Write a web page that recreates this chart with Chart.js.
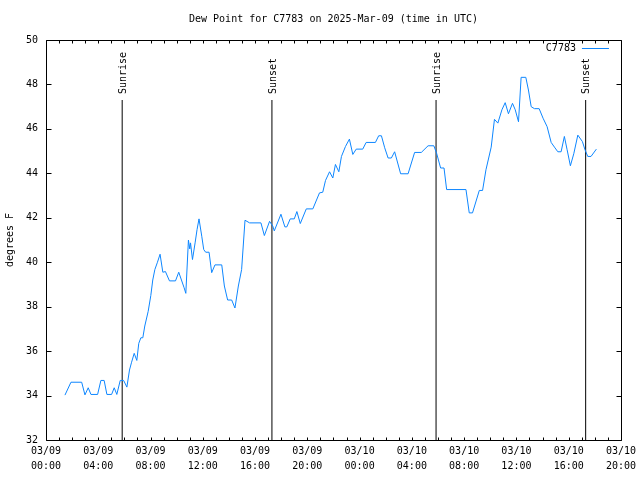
<!DOCTYPE html>
<html>
<head>
<meta charset="utf-8">
<script src="https://cdn.jsdelivr.net/npm/chart.js@4/dist/chart.umd.min.js"></script>
<style>
  html, body { margin: 0; padding: 0; background: #fff; }
  #wrap { width: 640px; height: 480px; }
</style>
</head>
<body>
<div id="wrap"><canvas id="chart" width="640" height="480"></canvas></div>
<script>
// hours since 03/09 00:00 UTC
const hours = [1.45, 1.91, 2.73, 2.98, 3.23, 3.44, 3.95, 4.20, 4.45, 4.66, 5.02, 5.22, 5.42, 5.68, 5.94,
  6.19, 6.39, 6.55, 6.75, 6.95, 7.10, 7.26, 7.41, 7.56, 7.82, 8.02, 8.17, 8.33, 8.53, 8.73, 8.94, 9.14,
  9.45, 9.91, 10.16, 10.57, 10.70, 10.90, 11.00, 11.06, 11.21, 11.41, 11.56, 11.71, 11.92, 12.07, 12.22,
  12.48, 12.68, 12.93, 13.45, 13.65, 13.90, 14.21, 14.46, 14.72, 14.97, 15.23, 15.58, 16.45, 16.71,
  17.11, 17.36, 17.47, 17.98, 18.28, 18.43, 18.69, 19.00, 19.20, 19.46, 19.92, 20.42, 20.93, 21.18,
  21.39, 21.70, 21.95, 22.15, 22.41, 22.61, 22.92, 23.22, 23.48, 23.74, 24.24, 24.50, 25.21, 25.46,
  25.67, 25.92, 26.18, 26.43, 26.68, 27.14, 27.71, 28.21, 28.72, 29.24, 29.68, 29.89, 30.20, 30.46,
  30.66, 32.14, 32.39, 32.64, 33.16, 33.41, 33.67, 34.07, 34.32, 34.58, 34.89, 35.14, 35.39, 35.70,
  35.91, 36.16, 36.36, 36.72, 36.92, 37.13, 37.38, 37.74, 38.04, 38.35, 38.66, 38.91, 39.17, 39.42,
  39.67, 39.88, 40.13, 40.39, 40.70, 41.05, 41.25, 41.46, 41.71, 42.12];
const dewPoint = [34.02, 34.6, 34.6, 34.03, 34.35, 34.05, 34.05, 34.68, 34.68, 34.05, 34.05, 34.35, 34.05, 34.68, 34.68,
  34.38, 35.15, 35.5, 35.9, 35.58, 36.35, 36.6, 36.6, 37.13, 37.79, 38.5, 39.2, 39.67, 40.0, 40.36, 39.55, 39.58,
  39.16, 39.16, 39.55, 38.85, 38.6, 41.0, 40.6, 40.87, 40.12, 40.87, 41.47, 41.95, 41.17, 40.57, 40.45,
  40.45, 39.53, 39.88, 39.88, 38.93, 38.3, 38.3, 37.94, 38.93, 39.67, 41.89, 41.77, 41.77, 41.2,
  41.84, 41.62, 41.41, 42.16, 41.59, 41.59, 41.95, 41.95, 42.28, 41.74, 42.4, 42.4, 43.12, 43.15,
  43.68, 44.07, 43.79, 44.4, 44.07, 44.76, 45.21, 45.54, 44.85, 45.09, 45.09, 45.39, 45.39, 45.69,
  45.69, 45.15, 44.69, 44.69, 44.97, 43.98, 43.98, 44.94, 44.94, 45.24, 45.24, 44.91, 44.24, 44.24,
  43.27, 43.27, 42.22, 42.22, 43.23, 43.23, 44.16, 45.18, 46.43, 46.26, 46.86, 47.18, 46.68, 47.15,
  46.86, 46.32, 48.32, 48.32, 47.75, 47.0, 46.91, 46.91, 46.48, 46.1, 45.39, 45.18, 44.97, 44.97,
  45.66, 45.06, 44.34, 44.88, 45.72, 45.43, 45.06, 44.76, 44.76, 45.09];

const sunLabels = ['Sunrise', 'Sunset', 'Sunrise', 'Sunset'];
const sunHours = [5.83, 17.29, 29.85, 41.3];
const sunLineTop = 47.3;

const yTicks = [32, 34, 36, 38, 40, 42, 44, 46, 48, 50];
const days = ['03/09', '03/10'];

const lineColor = '#0d86ff';

Chart.defaults.font.family = '"DejaVu Sans Mono", "Liberation Mono", monospace';
Chart.defaults.font.size = 10;
Chart.defaults.color = '#000';

const datasets = [{
  label: 'C7783',
  data: hours.map((h, i) => ({ x: h, y: dewPoint[i] })),
  borderColor: lineColor,
  borderWidth: 1,
  pointRadius: 0,
  tension: 0,
  order: 0
}];
sunHours.forEach((h, i) => {
  datasets.push({
    label: sunLabels[i],
    data: [{ x: h, y: yTicks[0] }, { x: h, y: sunLineTop }],
    borderColor: '#000',
    borderWidth: 1,
    pointRadius: 0,
    order: 1
  });
});

// gnuplot style: inward ticks on all four sides, sun labels, key in the corner
const decor = {
  id: 'decor',
  afterDatasetsDraw(chart) {
    const ctx = chart.ctx;
    const a = chart.chartArea;
    const xs = chart.scales.x, ys = chart.scales.y;
    const px = v => Math.round(v) + 0.5;
    ctx.save();
    ctx.strokeStyle = '#000';
    ctx.lineWidth = 1;
    ctx.beginPath();
    ctx.rect(px(a.left), px(a.top), Math.round(a.right) - Math.round(a.left), Math.round(a.bottom) - Math.round(a.top));
    for (let h = 0; h <= 44; h++) {
      const x = px(xs.getPixelForValue(h));
      ctx.moveTo(x, px(a.bottom)); ctx.lineTo(x, px(a.bottom) - 3);
      ctx.moveTo(x, px(a.top)); ctx.lineTo(x, px(a.top) + 3);
    }
    yTicks.forEach(v => {
      const y = px(ys.getPixelForValue(v));
      ctx.moveTo(px(a.left), y); ctx.lineTo(px(a.left) + 5, y);
      ctx.moveTo(px(a.right), y); ctx.lineTo(px(a.right) - 5, y);
    });
    ctx.stroke();

    ctx.fillStyle = '#000';
    ctx.font = '10px "DejaVu Sans Mono", "Liberation Mono", monospace';
    sunHours.forEach((h, i) => {
      const x = xs.getPixelForValue(h);
      const y = ys.getPixelForValue(sunLineTop) - 6;
      ctx.save();
      ctx.translate(x + 1, y);
      ctx.rotate(-Math.PI / 2);
      ctx.textAlign = 'left';
      ctx.textBaseline = 'middle';
      ctx.fillText(sunLabels[i], 0, 0);
      ctx.restore();
    });

    // key
    ctx.textAlign = 'right';
    ctx.textBaseline = 'middle';
    ctx.fillText('C7783', a.right - 45, a.top + 8);
    ctx.strokeStyle = lineColor;
    ctx.beginPath();
    ctx.moveTo(a.right - 39, a.top + 8.5);
    ctx.lineTo(a.right - 12, a.top + 8.5);
    ctx.stroke();
    ctx.restore();
  }
};

new Chart(document.getElementById('chart'), {
  type: 'line',
  data: { datasets: datasets },
  options: {
    responsive: false,
    animation: false,
    layout: { padding: { left: 0, right: 18, top: 0, bottom: 0 } },
    plugins: {
      legend: { display: false },
      tooltip: { enabled: false },
      title: {
        display: true,
        fullSize: false, // centre over the plot area, as gnuplot does
        text: 'Dew Point for C7783 on 2025-Mar-09 (time in UTC)',
        font: { size: 10, weight: 'normal', lineHeight: 1.2 },
        padding: { top: 13, bottom: 15 }
      }
    },
    scales: {
      x: {
        type: 'linear',
        min: 0,
        max: 44,
        afterFit(scale) { scale.height = 40; },
        grid: { display: false, drawTicks: false },
        border: { display: false },
        ticks: {
          stepSize: 4,
          autoSkip: false,
          maxRotation: 0,
          padding: 4,
          font: { size: 10, lineHeight: 1.5 },
          callback: v => [days[Math.floor(v / 24)] || days[1], String(v % 24).padStart(2, '0') + ':00']
        }
      },
      y: {
        min: 32,
        max: 50,
        afterFit(scale) { scale.width = 46; },
        grid: { display: false, drawTicks: false },
        border: { display: false },
        ticks: { stepSize: 2, padding: 8 },
        title: {
          display: true,
          text: 'degrees F',
          font: { size: 10, lineHeight: 1.2 },
          padding: { top: 4, bottom: 0 }
        }
      }
    }
  },
  plugins: [decor]
});
</script>
</body>
</html>
